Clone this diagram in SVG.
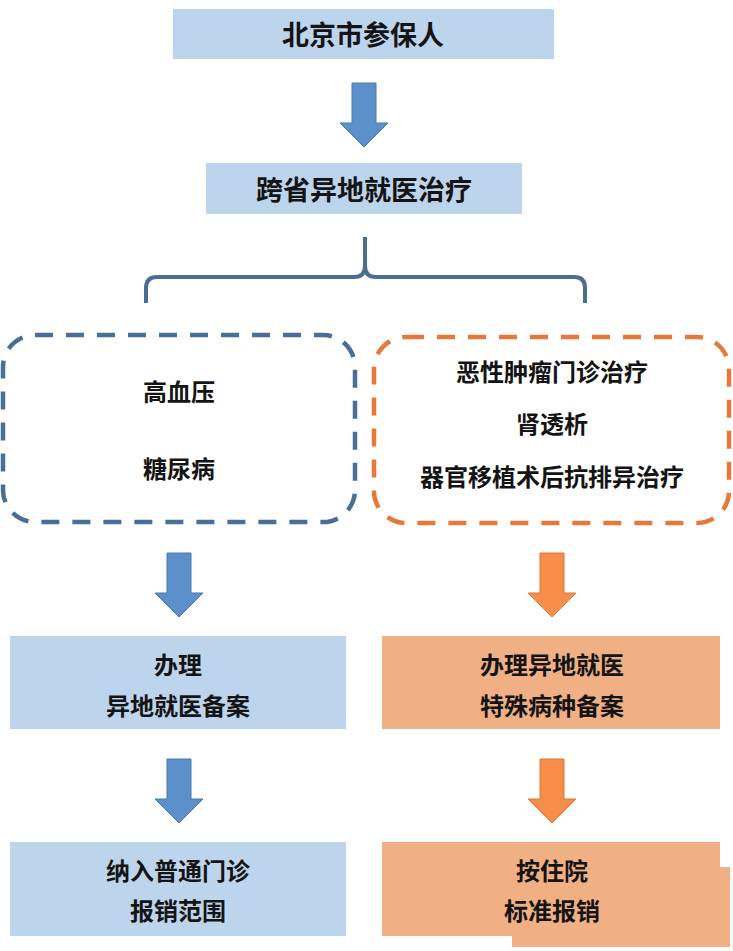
<svg xmlns="http://www.w3.org/2000/svg" width="733" height="951" viewBox="0 0 733 951">
<style>
.t{font-family:"Noto Sans CJK SC","Noto Sans",sans-serif;font-weight:700;fill:#141414;text-anchor:middle}
.big{font-size:27px}
.mid{font-size:24px}
.bfill{fill:#bdd5ec}
.ofill{fill:#f0b083}
.barrow{fill:#5b90ca;stroke:#4a78aa;stroke-width:1}
.oarrow{fill:#f88d4a;stroke:#d9783c;stroke-width:1}
.dash{fill:none;stroke-width:4.5;stroke-dasharray:18 13}
</style>
<defs>
<path id="arr" d="M-12,0 H12 V40 H24 L0,64 L-24,40 H-12 Z"/>
</defs>
<rect width="733" height="951" fill="#ffffff"/>

<g id="connectors">
<use href="#arr" class="barrow" transform="translate(364,83)"/>
<path d="M365,237 V266 Q365,277 354,277 H157 Q146,277 146,288 V303 M365,266 Q365,277 376,277 H574 Q585,277 585,288 V303" fill="none" stroke="#4a6d91" stroke-width="4"/>
<use href="#arr" class="barrow" transform="translate(179,553)"/>
<use href="#arr" class="oarrow" transform="translate(552,553)"/>
<use href="#arr" class="barrow" transform="translate(179,759)"/>
<use href="#arr" class="oarrow" transform="translate(552,759)"/>
</g>

<g id="n1">
<rect x="173" y="9" width="381" height="50" class="bfill"/>
<text x="363" y="45" class="t big">北京市参保人</text>
</g>

<g id="n2">
<rect x="206" y="163" width="316" height="51" class="bfill"/>
<text x="364" y="200" class="t big">跨省异地就医治疗</text>
</g>

<g id="n3">
<rect x="3" y="335" width="352" height="187" rx="32" class="dash" stroke="#4a6f97"/>
<text x="179" y="401" class="t mid">高血压</text>
<text x="179" y="478" class="t mid">糖尿病</text>
</g>

<g id="n4">
<rect x="374" y="337" width="355" height="186" rx="32" class="dash" stroke="#e6783a"/>
<text x="552" y="381" class="t mid">恶性肿瘤门诊治疗</text>
<text x="552" y="433" class="t mid">肾透析</text>
<text x="552" y="486" class="t mid">器官移植术后抗排异治疗</text>
</g>

<g id="n5">
<rect x="10" y="636" width="336" height="93" class="bfill"/>
<text x="178" y="674" class="t mid">办理</text>
<text x="178" y="715" class="t mid">异地就医备案</text>
</g>

<g id="n6">
<rect x="382" y="636" width="338" height="93" class="ofill"/>
<text x="552" y="674" class="t mid">办理异地就医</text>
<text x="552" y="715" class="t mid">特殊病种备案</text>
</g>

<g id="n7">
<rect x="10" y="842" width="336" height="94" class="bfill"/>
<text x="178" y="880" class="t mid">纳入普通门诊</text>
<text x="178" y="920" class="t mid">报销范围</text>
</g>

<g id="n8">
<rect x="512" y="867" width="218" height="80" class="ofill"/>
<rect x="382" y="842" width="338" height="94" class="ofill"/>
<text x="552" y="880" class="t mid">按住院</text>
<text x="552" y="920" class="t mid">标准报销</text>
</g>
</svg>
